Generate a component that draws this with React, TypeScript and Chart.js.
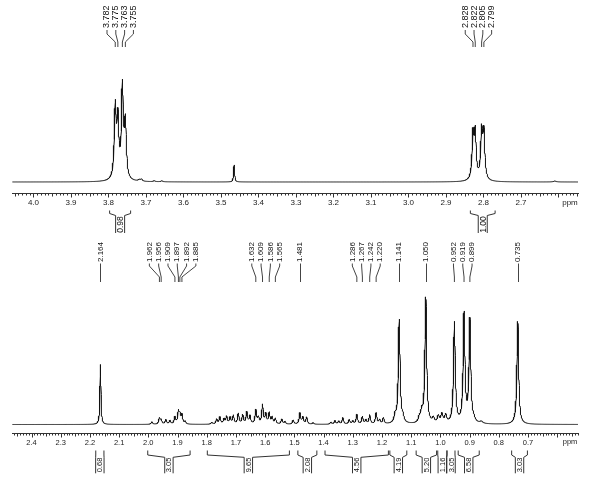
import React, { useEffect, useRef } from 'react';
import { Chart, registerables } from 'chart.js';

Chart.register(...registerables);

// ---------------- TOP SPECTRUM (ppm 4.05 – 2.55) ----------------
const topTicks = [4.0, 3.9, 3.8, 3.7, 3.6, 3.5, 3.4, 3.3, 3.2, 3.1, 3.0, 2.9, 2.8, 2.7];
const topLabelValues = [3.782, 3.775, 3.763, 3.755, 2.828, 2.822, 2.805, 2.799];
const topPeakPpm = [3.782, 3.775, 3.763, 3.755, 2.828, 2.822, 2.805, 2.799, 3.465, 3.718, 3.712, 3.678, 3.658, 2.61];
const topPeakHeight = [71, 57, 91, 55, 44, 46, 47, 46, 17, 1.5, 2, 1, 1, 1];
const topPeakWidth = [0.003, 0.003, 0.003, 0.003, 0.003, 0.003, 0.003, 0.003, 0.0015, 0.003, 0.003, 0.003, 0.003, 0.004];
const topIntegralFrom = [3.797, 2.835];
const topIntegralTo = [3.741, 2.769];
const topIntegralValue = ['0.98', '1.00'];

// ---------------- BOTTOM SPECTRUM (ppm 2.47 – 0.53) ----------------
const bottomTicks = [2.4, 2.3, 2.2, 2.1, 2.0, 1.9, 1.8, 1.7, 1.6, 1.5, 1.4, 1.3, 1.2, 1.1, 1.0, 0.9, 0.8, 0.7];
const bottomLabelValues = [2.164, 1.962, 1.956, 1.909, 1.897, 1.892, 1.885, 1.632, 1.609, 1.586, 1.565, 1.481,
  1.286, 1.267, 1.242, 1.220, 1.141, 1.050, 0.952, 0.919, 0.899, 0.735];
const bottomPeakPpm = [
  2.164,
  1.988, 1.962, 1.956, 1.940, 1.926, 1.909, 1.897, 1.892, 1.885, 1.874,
  1.783, 1.766, 1.755, 1.741, 1.732, 1.720, 1.709, 1.692, 1.677, 1.663, 1.652, 1.632, 1.623, 1.609, 1.598,
  1.586, 1.576, 1.565, 1.543, 1.532, 1.504, 1.481, 1.471, 1.458, 1.436,
  1.375, 1.361, 1.348, 1.334, 1.312, 1.300, 1.286, 1.267, 1.255, 1.242, 1.220, 1.208, 1.195,
  1.155, 1.141, 1.128, 1.072, 1.064, 1.050, 1.024, 1.007, 0.995, 0.982,
  0.952, 0.919, 0.899, 0.885, 0.860, 0.735,
];
const bottomPeakHeight = [
  60,
  2.5, 6, 4, 4.5, 3.5, 7, 12, 8, 9, 2.5,
  2, 5, 7, 5, 7.5, 6.5, 8.5, 10.5, 9, 12, 8, 14, 6, 19, 10,
  11, 6.5, 5.5, 5, 2.5, 4, 11, 7, 7, 1.5,
  2, 3.5, 3, 6.5, 4.5, 3, 9.5, 7.5, 4, 9, 11, 4, 6,
  7, 104, 5, 5, 10, 126, 5, 7, 9, 8,
  101, 109, 103, 3, 2, 103,
];
const bottomPeakWidth = [
  0.002,
  0.003, 0.003, 0.003, 0.003, 0.003, 0.003, 0.003, 0.003, 0.003, 0.003,
  0.003, 0.003, 0.003, 0.003, 0.003, 0.003, 0.003, 0.003, 0.003, 0.003, 0.003, 0.003, 0.003, 0.003, 0.003,
  0.003, 0.003, 0.003, 0.003, 0.003, 0.003, 0.003, 0.003, 0.003, 0.003,
  0.003, 0.003, 0.003, 0.003, 0.003, 0.003, 0.003, 0.003, 0.003, 0.003, 0.003, 0.003, 0.003,
  0.004, 0.0035, 0.004, 0.004, 0.004, 0.0035, 0.004, 0.004, 0.004, 0.004,
  0.0035, 0.0035, 0.0035, 0.005, 0.006, 0.0035,
];
const bottomIntegralFrom = [2.180, 2.002, 1.798, 1.488, 1.395, 1.173, 1.083, 1.009, 0.977, 0.939, 0.756];
const bottomIntegralTo = [2.152, 1.857, 1.517, 1.423, 1.178, 1.115, 1.013, 0.978, 0.950, 0.867, 0.702];
const bottomIntegralValue = ['0.68', '3.05', '9.65', '2.08', '4.56', '4.19', '5.20', '1.16', '3.05', '6.58', '3.03'];

// ---------------------------------------------------------------
const FONT = '"Liberation Sans", Arial, Helvetica, sans-serif';
const W = 591;

type Layout = {
  height: number; chartTop: number; axisY: number; baseY: number; axisH: number;
  tickFont: number; labelFont: number; intFont: number; labelSpacing: number;
  textBottom: number; l1: number; l2: number; l3: number; l4: number;
  intTop: number; intMid: number; stemTop: number; intBottom: number; intText: number; stemHalf: number;
  ppmX: number; ppmDy: number;
};

type Panel = {
  xMin: number; xMax: number; ticks: number[]; labels: number[];
  peakPpm: number[]; peakHeight: number[]; peakWidth: number[];
  intFrom: number[]; intTo: number[]; intValue: string[];
  layout: Layout;
};

const topPanel: Panel = {
  xMin: 2.548, xMax: 4.0573, ticks: topTicks, labels: topLabelValues,
  peakPpm: topPeakPpm, peakHeight: topPeakHeight, peakWidth: topPeakWidth,
  intFrom: topIntegralFrom, intTo: topIntegralTo, intValue: topIntegralValue,
  layout: {
    height: 238, chartTop: 50, axisY: 193, baseY: 182, axisH: 30,
    tickFont: 8, labelFont: 9, intFont: 8.5, labelSpacing: 8.8,
    textBottom: 28, l1: 30, l2: 34, l3: 42, l4: 47,
    intTop: 210.5, intMid: 213.5, stemTop: 215.5, intBottom: 233, intText: 224.5, stemHalf: 4.5,
    ppmX: 570, ppmDy: 10,
  },
};

const bottomPanel: Panel = {
  xMin: 0.5288, xMax: 2.4668, ticks: bottomTicks, labels: bottomLabelValues,
  peakPpm: bottomPeakPpm, peakHeight: bottomPeakHeight, peakWidth: bottomPeakWidth,
  intFrom: bottomIntegralFrom, intTo: bottomIntegralTo, intValue: bottomIntegralValue,
  layout: {
    height: 247, chartTop: 48, axisY: 195, baseY: 186.5, axisH: 30,
    tickFont: 7.5, labelFont: 8, intFont: 7.5, labelSpacing: 9.3,
    textBottom: 24, l1: 25.5, l2: 28, l3: 39, l4: 44,
    intTop: 212.5, intMid: 217, stemTop: 219.3, intBottom: 235.3, intText: 227, stemHalf: 4.2,
    ppmX: 570, ppmDy: 9,
  },
};

function spectrumPoints(p: Panel) {
  const step = 0.0005;
  const i0 = Math.ceil(p.xMin / step);
  const i1 = Math.floor(p.xMax / step);
  const pts: { x: number; y: number }[] = [];
  for (let i = i0; i <= i1; i++) {
    const x = i * step;
    let y = 0;
    for (let k = 0; k < p.peakPpm.length; k++) {
      const d = (x - p.peakPpm[k]) / p.peakWidth[k];
      y += p.peakHeight[k] / (1 + d * d);
    }
    pts.push({ x, y });
  }
  return pts;
}

function layoutLabels(px: number[], spacing: number): number[] {
  let groups = px.map((c, i) => ({ start: i, n: 1, center: c }));
  let merged = true;
  while (merged) {
    merged = false;
    for (let g = 0; g < groups.length - 1; g++) {
      const a = groups[g], b = groups[g + 1];
      const aLast = a.center + ((a.n - 1) * spacing) / 2;
      const bFirst = b.center - ((b.n - 1) * spacing) / 2;
      if (bFirst - aLast < spacing) {
        const n = a.n + b.n;
        let sum = 0;
        for (let k = a.start; k < a.start + n; k++) sum += px[k];
        groups.splice(g, 2, { start: a.start, n, center: sum / n });
        merged = true;
        break;
      }
    }
  }
  const out: number[] = [];
  groups.forEach((g) => {
    for (let k = 0; k < g.n; k++) out.push(g.center + (k - (g.n - 1) / 2) * spacing);
  });
  return out;
}

function makeDecor(p: Panel) {
  return {
    id: 'nmrDecor',
    afterDraw(chart: any) {
      const ctx: CanvasRenderingContext2D = chart.ctx;
      const xs = chart.scales.x;
      const L = p.layout;
      const axisY = chart.chartArea.bottom;
      ctx.save();
      ctx.strokeStyle = '#333';
      ctx.lineWidth = 1;
      // ruler ticks
      const lo = Math.ceil(p.xMin * 100 - 1e-6);
      const hi = Math.floor(p.xMax * 100 + 1e-6);
      ctx.beginPath();
      for (let k = lo; k <= hi; k++) {
        const x = Math.round(xs.getPixelForValue(k / 100)) + 0.5;
        const len = k % 10 === 0 ? 4 : k % 5 === 0 ? 3 : 2;
        ctx.moveTo(x, axisY + 0.5);
        ctx.lineTo(x, axisY + 0.5 + len);
      }
      ctx.stroke();
      // ppm unit
      ctx.fillStyle = '#222';
      ctx.font = `${L.tickFont}px ${FONT}`;
      ctx.textAlign = 'center';
      ctx.textBaseline = 'middle';
      ctx.fillText('ppm', L.ppmX, axisY + L.ppmDy);

      // peak labels
      const peakPx = p.labels.map((v) => xs.getPixelForValue(v));
      const labPx = layoutLabels(peakPx, L.labelSpacing);
      ctx.strokeStyle = '#444';
      ctx.beginPath();
      peakPx.forEach((px, i) => {
        const lx = labPx[i];
        if (Math.abs(lx - px) < 0.6) {
          const x = Math.round(px) + 0.5;
          ctx.moveTo(x, L.l1);
          ctx.lineTo(x, L.l4);
        } else {
          ctx.moveTo(lx, L.l1);
          ctx.lineTo(lx, L.l2);
          ctx.lineTo(px, L.l3);
          ctx.lineTo(px, L.l4);
        }
      });
      ctx.stroke();
      ctx.fillStyle = '#111';
      ctx.font = `${L.labelFont}px ${FONT}`;
      ctx.textAlign = 'left';
      ctx.textBaseline = 'middle';
      p.labels.forEach((v, i) => {
        ctx.save();
        ctx.translate(labPx[i], L.textBottom);
        ctx.rotate(-Math.PI / 2);
        ctx.fillText(v.toFixed(3), 0, 0);
        ctx.restore();
      });

      // integrals
      ctx.strokeStyle = '#333';
      ctx.beginPath();
      p.intFrom.forEach((f, i) => {
        const x1 = xs.getPixelForValue(f);
        const x2 = xs.getPixelForValue(p.intTo[i]);
        const cx = (x1 + x2) / 2;
        const sL = cx - L.stemHalf;
        const sR = cx + L.stemHalf;
        ctx.moveTo(x1, L.intTop);
        ctx.lineTo(x1, L.intMid);
        ctx.lineTo(sL, L.stemTop);
        ctx.lineTo(sL, L.intBottom);
        ctx.moveTo(x2, L.intTop);
        ctx.lineTo(x2, L.intMid);
        ctx.lineTo(sR, L.stemTop);
        ctx.lineTo(sR, L.intBottom);
      });
      ctx.stroke();
      ctx.fillStyle = '#111';
      ctx.font = `${L.intFont}px ${FONT}`;
      ctx.textAlign = 'center';
      ctx.textBaseline = 'middle';
      p.intFrom.forEach((f, i) => {
        const x1 = xs.getPixelForValue(f);
        const x2 = xs.getPixelForValue(p.intTo[i]);
        ctx.save();
        ctx.translate((x1 + x2) / 2, L.intText);
        ctx.rotate(-Math.PI / 2);
        ctx.fillText(p.intValue[i], 0, 0.5);
        ctx.restore();
      });
      ctx.restore();
    },
  };
}

function buildConfig(p: Panel): any {
  const L = p.layout;
  const yMin = -(L.axisY - L.baseY);
  const yMax = L.axisY - L.chartTop + yMin;
  return {
    type: 'line',
    data: {
      datasets: [
        {
          data: spectrumPoints(p),
          borderColor: '#111',
          borderWidth: 1,
          pointRadius: 0,
          tension: 0,
          fill: false,
        },
      ],
    },
    options: {
      animation: false,
      responsive: false,
      maintainAspectRatio: false,
      parsing: false,
      normalized: true,
      events: [],
      layout: { padding: { left: 12, right: W - 578, top: L.chartTop, bottom: L.height - L.axisY - L.axisH } },
      plugins: { legend: { display: false }, tooltip: { enabled: false }, title: { display: false } },
      scales: {
        x: {
          type: 'linear',
          reverse: true,
          min: p.xMin,
          max: p.xMax,
          afterBuildTicks: (s: any) => {
            s.ticks = p.ticks.map((v) => ({ value: v }));
          },
          afterFit: (s: any) => {
            s.height = L.axisH;
          },
          ticks: {
            callback: (v: any) => Number(v).toFixed(1),
            autoSkip: false,
            maxRotation: 0,
            minRotation: 0,
            padding: 1,
            color: '#222',
            font: { family: FONT, size: L.tickFont },
          },
          grid: { display: false, drawTicks: true, tickLength: 4 },
          border: { display: true, color: '#333', width: 1 },
        },
        y: { display: false, min: yMin, max: yMax },
      },
    },
    plugins: [makeDecor(p)],
  };
}

function Spectrum({ panel, top }: { panel: Panel; top: number }) {
  const ref = useRef<HTMLCanvasElement>(null);
  useEffect(() => {
    const chart = new Chart(ref.current as HTMLCanvasElement, buildConfig(panel));
    return () => chart.destroy();
  }, [panel]);
  return (
    <canvas
      ref={ref}
      width={W}
      height={panel.layout.height}
      style={{ position: 'absolute', left: 0, top, width: W, height: panel.layout.height, display: 'block' }}
    />
  );
}

export default function App() {
  return (
    <div style={{ position: 'absolute', left: 0, top: 0, width: W, height: 485, background: '#fff', overflow: 'hidden' }}>
      <Spectrum panel={topPanel} top={0} />
      <Spectrum panel={bottomPanel} top={238} />
    </div>
  );
}
